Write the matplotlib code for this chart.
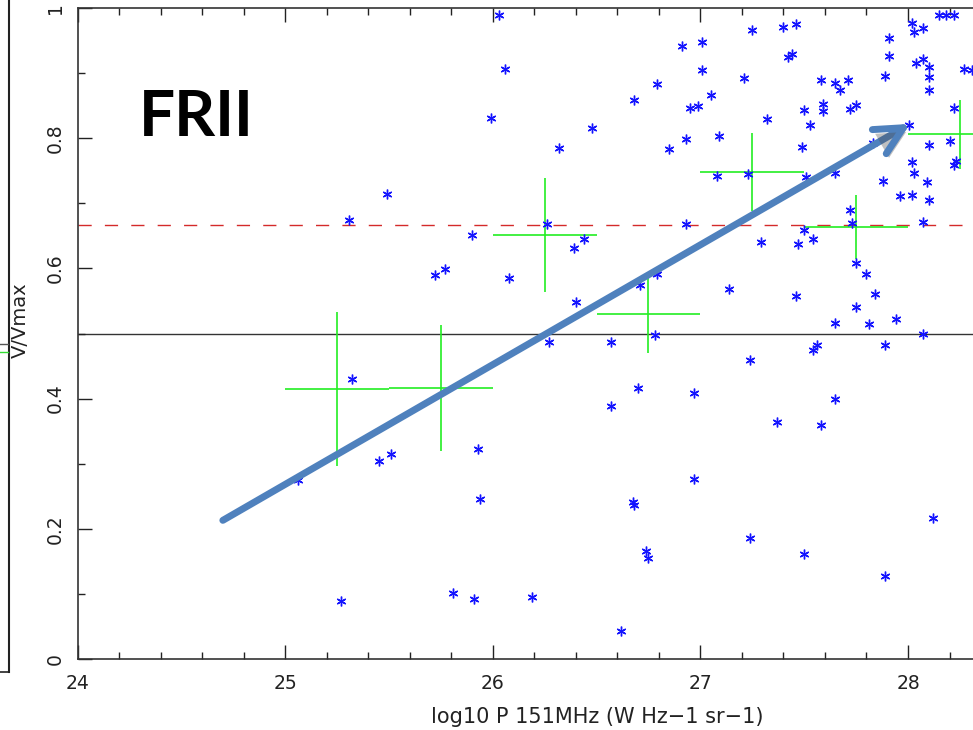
import matplotlib
matplotlib.use("Agg")
import matplotlib.pyplot as plt
import matplotlib.patheffects as pe
from matplotlib.lines import Line2D

# individual FRII sources: log10 P151 and V/Vmax
logp = [
    26.03, 26.06, 25.99, 26.48, 26.32, 25.49, 25.31, 25.90, 26.26, 26.44,
    26.39, 25.72, 25.77, 26.08, 26.40, 26.27, 25.32, 25.51, 25.45, 25.06,
    25.93, 25.94, 25.27, 25.81, 25.91, 26.19,
    28.15, 28.185, 28.22, 28.02, 28.07, 28.03, 27.91, 27.91, 27.89, 28.04,
    28.07, 28.10, 28.10, 28.10, 28.27, 28.31, 28.22, 28.005, 27.83, 28.10,
    28.20, 28.23, 28.22, 28.02, 28.03, 28.09, 27.88, 27.96, 28.02, 28.10,
    28.07, 27.58, 27.65, 27.71, 27.67, 27.59, 27.59, 27.72, 27.75, 27.50,
    27.53, 27.49, 27.51, 27.65,
    27.72, 27.73, 27.50, 27.47, 27.54, 27.29, 27.75, 27.80, 27.84, 27.75,
    27.94, 27.65, 27.81, 27.14, 27.46, 27.40, 27.46, 27.25, 27.42, 27.44,
    27.21, 27.01, 26.91, 27.01, 27.05, 26.95, 26.99, 26.79, 26.68, 26.93,
    27.09, 26.85, 27.08, 27.23, 26.93, 26.79, 26.71, 27.32,
    28.07, 26.57, 26.78, 27.24, 27.54, 27.56, 27.89, 26.70, 26.97, 26.57,
    27.65, 27.37, 27.58, 26.97, 26.675, 26.68, 28.12, 27.24, 27.50, 26.74,
    26.75, 27.89, 26.62,
]
vvmax = [
    0.989, 0.907, 0.831, 0.815, 0.785, 0.715, 0.675, 0.652, 0.668, 0.645,
    0.631, 0.590, 0.599, 0.585, 0.549, 0.487, 0.430, 0.315, 0.304, 0.275,
    0.323, 0.246, 0.089, 0.102, 0.092, 0.096,
    0.989, 0.989, 0.989, 0.977, 0.969, 0.963, 0.954, 0.926, 0.895, 0.916,
    0.921, 0.910, 0.894, 0.874, 0.906, 0.904, 0.847, 0.820, 0.792, 0.790,
    0.796, 0.765, 0.759, 0.764, 0.746, 0.733, 0.734, 0.711, 0.713, 0.705,
    0.671, 0.890, 0.885, 0.889, 0.874, 0.852, 0.842, 0.845, 0.851, 0.844,
    0.820, 0.787, 0.741, 0.747,
    0.690, 0.670, 0.659, 0.637, 0.645, 0.640, 0.609, 0.592, 0.560, 0.540,
    0.522, 0.516, 0.515, 0.569, 0.558, 0.971, 0.975, 0.966, 0.925, 0.930,
    0.892, 0.948, 0.942, 0.905, 0.866, 0.847, 0.849, 0.883, 0.859, 0.799,
    0.803, 0.783, 0.742, 0.745, 0.668, 0.592, 0.575, 0.829,
    0.499, 0.487, 0.497, 0.459, 0.475, 0.482, 0.482, 0.417, 0.408, 0.389,
    0.399, 0.364, 0.360, 0.276, 0.241, 0.237, 0.217, 0.186, 0.161, 0.166,
    0.155, 0.127, 0.043,
]

# binned means
bin_centre = [25.25, 25.75, 26.25, 26.75, 27.25, 27.75, 28.25]
bin_halfwidth = 0.25
bin_mean = [0.415, 0.416, 0.651, 0.530, 0.748, 0.664, 0.806]
bin_err = [0.118, 0.097, 0.088, 0.060, 0.060, 0.049, 0.053]

# trend arrow (drawn over the plot)
arrow_start = (24.70, 0.213)
arrow_end = (28.01, 0.822)

fig = plt.figure(figsize=(9.73, 7.30), dpi=100)
ax = fig.add_axes([77.5 / 973, 71 / 730, 1 - 77.5 / 973, 651 / 730])

txt = "#222222"
ax.axhline(0.5, color="#333333", lw=1.0, zorder=1)
ax.axhline(2.0 / 3.0, color="#d42a2a", lw=1.0, dashes=(9.5, 9.5), zorder=1)

ax.errorbar(bin_centre, bin_mean, xerr=bin_halfwidth, yerr=bin_err,
            fmt="none", ecolor="#22ee22", elinewidth=1.2, capsize=0, zorder=2)

ax.plot(logp, vvmax, ls="none", marker=(6, 2, 0), ms=7, mew=1.0,
        color="#1414ff", zorder=3)

ax.annotate("", xy=arrow_end, xytext=arrow_start,
            arrowprops=dict(arrowstyle="->,head_length=1.0,head_width=0.5",
                            color="#4f81bd", lw=5, mutation_scale=20,
                            capstyle="round", joinstyle="round",
                            shrinkA=0, shrinkB=0,
                            path_effects=[pe.SimplePatchShadow(offset=(2, -3), alpha=0.35),
                                          pe.Normal()]),
            zorder=5)

ax.set_xlim(24, 28 + 65 / 207.7)
ax.set_ylim(0, 1)
ax.set_xticks([24, 25, 26, 27, 28])
ax.set_xticks([24 + 0.2 * i for i in range(22)], minor=True)
ax.set_yticks([0, 0.2, 0.4, 0.6, 0.8, 1])
ax.set_yticklabels(["0", "0.2", "0.4", "0.6", "0.8", "1"])
ax.set_yticks([0.1 * i for i in range(11)], minor=True)
ax.tick_params(which="both", direction="in", top=True, right=False, color="#222222", width=1.0)
ax.tick_params(which="major", length=10)
ax.tick_params(which="minor", length=5)
ax.tick_params(axis="x", which="major", pad=11, labelsize=13.5, labelcolor=txt)
ax.tick_params(axis="y", which="major", pad=9, labelsize=13.5, labelcolor=txt, labelrotation=90)
for lab in ax.get_yticklabels():
    lab.set_verticalalignment("center")
for side in ["left", "bottom", "top"]:
    ax.spines[side].set_color("#333333")
    ax.spines[side].set_linewidth(1.2)
ax.spines["right"].set_visible(False)

ax.set_xlabel("log10 P 151MHz (W Hz\u22121 sr\u22121)", fontsize=15, color=txt)
ax.xaxis.set_label_coords(0.58, -0.089)
ax.xaxis.label.set_verticalalignment("center")
ax.set_ylabel("V/Vmax", fontsize=14, color=txt)
ax.yaxis.set_label_coords(-0.064, 0.52)
ax.yaxis.label.set_verticalalignment("center")

ax.text(196.5 / 973, 1 - 118 / 730, "FRII", transform=fig.transFigure,
        fontsize=46, fontweight="bold", family=["Lato", "DejaVu Sans"],
        ha="center", va="center", color="black")

# remnants of the neighbouring panel on the slide
def px_line(xs, ys, **kw):
    fig.add_artist(Line2D([x / 973 for x in xs], [1 - y / 730 for y in ys],
                          transform=fig.transFigure, **kw))

px_line([9, 9], [0, 672], color="#222222", lw=1.5)
px_line([0, 9], [672, 672], color="#222222", lw=1.2)
px_line([0, 8], [344, 344], color="#555555", lw=1.0)
px_line([0, 8], [352, 352], color="#33dd33", lw=1.0)

fig.savefig("out.png", dpi=100)
